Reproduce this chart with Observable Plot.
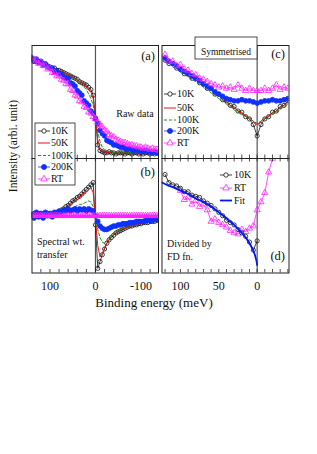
<!DOCTYPE html>
<html><head><meta charset="utf-8">
<script src="https://cdn.jsdelivr.net/npm/d3@7"></script>
<script src="https://cdn.jsdelivr.net/npm/@observablehq/plot@0.6"></script>
<style>
body{margin:0;background:#fff;}
#fig{position:relative;width:317px;height:454px;overflow:hidden;background:#fff;font-family:"Liberation Serif",serif;}
#fig svg{position:absolute;left:0;top:0;}
#fig svg text{font-family:"Liberation Serif",serif;}
</style></head><body><div id="fig"></div>
<script>
// ---------- data ----------
const seriesNames = ["10K","50K","100K","200K","RT"];
const energyAB = [140,135,130,125,120,115,110,105,100,95,90,85,80,75,70,65,60,55,50,45,40,35,30,25,20,15,10,5,0,-5,-10,-15,-20,-25,-30,-35,-40,-45,-50,-55,-60,-65,-70,-75,-80,-85,-90,-95,-100,-105,-110,-115,-120,-125,-130,-135,-140];
// (a) raw data
const rawT10  = [.87,.88,.86,.86,.85,.84,.84,.82,.81,.80, .80,.78,.78,.77,.76,.75,.74,.73,.72,.71, .70,.68,.67,.66,.65,.63,.61,.56,.36, .12,.07,.06, .05,.05,.06,.05,.05,.04,.05,.05,.05,.04, .05,.05,.04,.05,.05,.04,.05,.04,.05,.05, .04,.05,.04,.05,.04];
const rawT50  = [.87,.87,.86,.85,.85,.84,.83,.82,.81,.80, .79,.78,.78,.77,.76,.75,.74,.73,.72,.71, .69,.68,.67,.66,.64, .62,.59,.53,.38, .17,.09,.07,.06, .05,.05,.06,.05,.05,.05,.04,.05,.05,.05, .04,.05,.05,.05,.04,.05,.05,.04,.05,.05, .04,.05,.05,.04];
const rawT100 = [.87,.87,.86,.85,.85,.84,.83,.82,.81,.80, .79,.78,.77,.76,.75,.74,.73,.72,.71,.70, .68,.67,.65, .63,.61,.57,.53,.47,.37, .24,.15,.10,.08,.07,.06, .06,.05,.06,.05,.06,.05,.05,.06,.05,.05, .06,.05,.05,.05,.06,.05,.05,.05,.05,.06, .05,.05];
const rawT200 = [.89,.86,.88,.85,.86,.83,.83,.81,.80,.80, .77,.77,.75,.75,.72,.71,.71,.67,.66,.64, .60,.58,.56,.51,.49,.47,.42,.40,.35, .31,.25,.22,.20,.16,.15,.14,.12,.12,.11, .10,.10,.09,.08,.09,.08,.07,.08,.07,.07, .06,.07,.06,.06,.05,.06,.05,.06];
const rawRT   = [.89,.87,.87,.84,.85,.82,.82,.79,.80,.76, .76,.73,.73,.70,.69,.66,.66,.61,.60,.56, .55,.51,.50,.46,.45,.41,.40,.37,.35, .32,.30,.28,.25,.24,.21,.20,.19,.17,.16, .15,.14,.14,.13,.12,.12,.11,.11,.10,.10, .09,.10,.09,.08,.09,.08,.08,.07];
// (b) spectral weight transfer (difference from RT)
const difT10  = [.01,.02,.00,.02,.01,.02,.01,.02,.00,.02, .01,.03,.04,.05,.06,.08,.09,.11,.13,.14, .16,.17,.19,.21,.23,.25,.27,.29,-.08, -.46,-.40,-.34,-.29,-.24,-.21,-.19,-.17,-.15,-.14, -.13,-.12,-.11,-.10,-.09,-.09,-.08,-.08,-.07,-.07, -.06,-.06,-.06,-.05,-.05,-.05,-.04,-.04];
const difT50  = [.01,.00,.02,.01,.00,.02,.01,.00,.01,.02, .01,.02,.03,.04,.05,.07,.08,.10,.11,.13, .14,.16,.18,.20,.21,.23,.25,.20,-.03, -.26,-.36,-.33,-.28,-.24,-.21,-.18,-.16,-.15,-.14, -.12,-.11,-.11,-.10,-.09,-.09,-.08,-.08,-.07,-.07, -.06,-.06,-.05,-.05,-.05,-.04,-.04,-.04];
const difT100 = [.00,.01,-.01,.01,.00,-.01,.01,.00,.01,.00, .01,.00,.01,.02,.03,.04,.05,.06,.07,.08, .09,.10,.10,.11,.12,.13,.12,.08,-.02, -.12,-.19,-.23,-.24,-.22,-.19,-.17,-.15,-.14,-.13, -.12,-.11,-.10,-.09,-.09,-.08,-.08,-.07,-.07,-.06, -.06,-.05,-.05,-.05,-.04,-.04,-.04,-.03];
const difT200 = [.01,-.02,.03,-.01,.02,-.02,.03,.00,.02,-.01, .03,.02,.04,.03,.05,.04,.06,.04,.05,.06, .04,.06,.05,.06,.04,.06,.05,.04,.00, -.05,-.09,-.11,-.12,-.12,-.11,-.10,-.09,-.09,-.08, -.08,-.07,-.07,-.07,-.06,-.06,-.06,-.05,-.05,-.05, -.05,-.04,-.04,-.04,-.04,-.03,-.03,-.03];
const difRT   = [0,0,0,0,0,0,0,0,0,0, 0,0,0,0,0,0,0,0,0,0, 0,0,0,0,0,0,0,0,0, 0,0,0,0,0,0,0,0,0,0, 0,0,0,0,0,0,0,0,0,0, 0,0,0,0,0,0,0,0];
// (c) symmetrised
const energyC = [120,115,110,105,100,95,90,85,80,75,70,65,60,55,50,45,40,35,30,25,20,15,10,5,0,-5,-10,-15,-20,-25,-30,-35,-40];
const symT10  = [.87,.84,.84,.80,.79,.75,.75,.71,.71,.67,.66,.62,.62,.57,.57,.52,.51,.47,.46,.42,.41,.37,.35,.30,.20,.30,.35,.37,.41,.42,.46,.47,.51];
const symT50  = [.88,.84,.83,.80,.79,.76,.73,.72,.69,.68,.66,.62,.61,.57,.56,.52,.50,.47,.45,.42,.40,.38,.36,.33,.30,.33,.36,.38,.40,.42,.45,.47,.50];
const symT100 = [.86,.85,.81,.80,.76,.75,.72,.70,.68,.66,.63,.61,.58,.56,.53,.51,.48,.46,.43,.41,.39,.37,.35,.33,.31,.33,.35,.37,.39,.41,.43,.46,.48];
const symT200 = [.89,.86,.84,.82,.79,.77,.75,.73,.71,.69,.66,.64,.62,.59,.57,.55,.53,.52,.51,.51,.52,.51,.51,.50,.49,.50,.51,.51,.52,.51,.51,.52,.53];
const symRT   = [.92,.86,.86,.82,.83,.79,.78,.75,.74,.71,.70,.68,.66,.65,.63,.64,.62,.63,.61,.65,.62,.60,.62,.60,.60,.60,.62,.60,.62,.65,.61,.63,.62];
// (d) divided by Fermi-Dirac function
const energyD10 = [120,115,110,105,100,95,90,85,80,75,70,65,60,55,50,45,40,35,30,25,20,15,10,5,0];
const divT10    = [.86,.79,.77,.76,.74,.71,.71,.68,.67,.66,.63,.61,.59,.56,.53,.50,.46,.44,.42,.38,.35,.32,.27,.20,.28];
const energyDRT = [100,95,90,85,80,75,70,65,60,55,50,45,40,35,30,25,20,15,10,5,0,-5,-10,-15,-20,-25];
const divRT     = [.72,.64,.66,.60,.63,.58,.60,.55,.45,.47,.44,.42,.40,.37,.35,.34,.38,.36,.39,.41,.55,.62,.70,.88,1.0,1.12];
const energyFit = [124,115,110,100,90,80,70,60,50,40,30,20,15,10,6,3,1,0];
const divFit    = [.79,.76,.75,.72,.69,.65,.62,.58,.53,.48,.42,.35,.31,.26,.21,.16,.11,.07];
// axes
const ticksL = [120,100,80,60,40,20,0,-20,-40,-60,-80,-100,-120];
const ticksR = [120,110,100,90,80,70,60,50,40,30,20,10,0,-10,-20,-30,-40];
const tickLabelsL = [100,0,-100];
const tickLabelsR = [100,50,0];

// ---------- layout / style ----------
const W = 317, H = 454;
const colL = [31.5, 158], colR = [161.5, 288.5];
const rowT = [45, 158], rowB = [158, 272.5];
const xDomL = [139.5, -138.5], xDomR = [124, -41.5];
const serif = '"Liberation Serif", serif';
const TL = 3.5;
const C = {k:"#111111", r:"#ee1111", g:"#228b22", b:"#1030ff", m:"#ff22ff"};
const styles = {
  "10K":  {color:C.k, symbol:"circle", fill:"none", r:2.1},
  "50K":  {color:C.r, sw:1},
  "100K": {color:C.g, sw:1, dash:"3,2"},
  "200K": {color:C.b, symbol:"circle", fill:C.b, r:2.4},
  "RT":   {color:C.m, symbol:"triangle", fill:"none", r:2.3},
  "Fit":  {color:"#0018ff", sw:1.8}
};

function series(xs, ys, name, lw) {
  const s = styles[name];
  const d = xs.map((x, i) => ({x, y: ys[i]}));
  const m = [Plot.line(d, {x:"x", y:"y", stroke:s.color, strokeWidth:lw || s.sw || 0.8, strokeDasharray:s.dash, clip:true})];
  if (s.symbol) m.push(Plot.dot(d, {x:"x", y:"y", symbol:s.symbol, r:s.r, fill:s.fill, stroke:s.color, strokeWidth:0.8, clip:true}));
  return m;
}

function panel(o) {
  const innerH = o.row[1] - o.row[0];
  const bottom = o.row === rowB;
  const marks = [Plot.ruleX([0], {stroke:"#555", strokeWidth:1.2}), ...o.marks,
    Plot.ruleX(o.ticks, {x:d => d, insetTop: innerH - TL, stroke:"#222", strokeWidth:0.8})];
  if (bottom) marks.push(Plot.ruleX(o.ticks, {x:d => d, insetBottom: innerH - TL, stroke:"#222", strokeWidth:0.8}));
  marks.push(Plot.frame({stroke:"#222", strokeWidth:1}));
  const x = bottom
    ? {domain:o.xDom, ticks:o.labels, tickSize:0, tickPadding:8, tickFormat:d => String(d), label:null}
    : {domain:o.xDom, axis:null};
  const svg = Plot.plot({
    width:W, height:H,
    marginLeft:o.col[0], marginRight:W - o.col[1], marginTop:o.row[0], marginBottom:H - o.row[1],
    x, y:{domain:o.yDom, axis:null},
    style:{background:"transparent", overflow:"visible", fontFamily:serif, fontSize:"12px", color:"#111"},
    marks
  });
  document.getElementById("fig").appendChild(svg);
}

panel({col:colL, row:rowT, xDom:xDomL, yDom:[0,1], ticks:ticksL, marks:[
  ...series(energyAB, rawT10, "10K"), ...series(energyAB, rawT50, "50K"), ...series(energyAB, rawT100, "100K"),
  ...series(energyAB, rawT200, "200K"), ...series(energyAB, rawRT, "RT")]});
panel({col:colL, row:rowB, xDom:xDomL, yDom:[-0.5,0.5], ticks:ticksL, labels:tickLabelsL, marks:[
  ...series(energyAB, difT10, "10K"), ...series(energyAB, difT50, "50K"), ...series(energyAB, difT100, "100K"),
  ...series(energyAB, difT200, "200K"), ...series(energyAB, difRT, "RT", 2.5)]});
panel({col:colR, row:rowT, xDom:xDomR, yDom:[0,1], ticks:ticksR, marks:[
  ...series(energyC, symT10, "10K"), ...series(energyC, symT50, "50K"), ...series(energyC, symT100, "100K"),
  ...series(energyC, symT200, "200K"), ...series(energyC, symRT, "RT")]});
panel({col:colR, row:rowB, xDom:xDomR, yDom:[0,1], ticks:ticksR, labels:tickLabelsR, marks:[
  ...series(energyDRT, divRT, "RT"), ...series(energyD10, divT10, "10K"), ...series(energyFit, divFit, "Fit")]});

// ---------- annotations overlay ----------
const ov = d3.select("#fig").append("svg").attr("width", W).attr("height", H)
  .style("font-family", serif).style("fill", "#111");
function txt(x, y, s, size, anchor, rot) {
  const t = ov.append("text").attr("x", x).attr("y", y).attr("font-size", size)
    .attr("font-family", "Liberation Serif")
    .attr("text-anchor", anchor || "start").attr("fill", "#111").text(s);
  if (rot) t.attr("transform", `rotate(${rot},${x},${y})`);
  return t;
}
function legend(names, x0, x1, xt, ys) {
  names.forEach((n, i) => {
    const s = styles[n], y = ys[i];
    ov.append("line").attr("x1", x0).attr("x2", x1).attr("y1", y).attr("y2", y)
      .attr("stroke", s.color).attr("stroke-width", s.sw || 0.8).attr("stroke-dasharray", s.dash || null);
    if (s.symbol) {
      const sym = s.symbol === "triangle" ? d3.symbolTriangle : d3.symbolCircle;
      ov.append("path").attr("transform", `translate(${(x0 + x1) / 2},${y})`)
        .attr("d", d3.symbol(sym, Math.PI * s.r * s.r * 1.1)())
        .attr("fill", s.fill === "none" ? "white" : s.fill).attr("stroke", s.color).attr("stroke-width", 0.8);
    }
    txt(xt, y + 3.4, n, 10);
  });
}
// legend box (a)
ov.append("rect").attr("x", 35).attr("y", 123).attr("width", 40).attr("height", 62)
  .attr("fill", "white").attr("stroke", "#222").attr("stroke-width", 0.8);
legend(seriesNames, 38, 50, 51, [131, 143, 155.5, 167, 179]);
legend(seriesNames, 164, 176, 177, [94, 108, 120, 131, 143]);
legend(["10K", "RT", "Fit"], 220, 232, 234, [175, 188, 200.5]);
// Symmetrised box
ov.append("rect").attr("x", 195).attr("y", 37).attr("width", 62).attr("height", 22)
  .attr("fill", "white").attr("stroke", "#222").attr("stroke-width", 0.8);
txt(226, 55, "Symmetrised", 9.5, "middle");
// panel letters
txt(155, 60, "(a)", 12.5, "end");
txt(155, 176, "(b)", 12.5, "end");
txt(285, 58, "(c)", 12.5, "end");
txt(285, 260, "(d)", 12.5, "end");
txt(135, 117, "Raw data", 10, "middle");
txt(37, 245, "Spectral wt.", 10);
txt(37, 258, "transfer", 10);
txt(167, 247, "Divided by", 10);
txt(167, 260, "FD fn.", 10);
// axis titles
txt(17, 146, "Intensity (arbi. unit)", 11.5, "middle", -90);
txt(154, 307, "Binding energy (meV)", 13, "middle");
</script></body></html>
